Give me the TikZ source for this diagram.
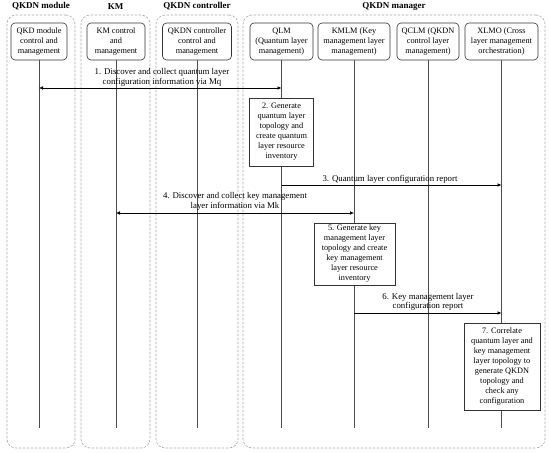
\documentclass[tikz,border=0pt]{standalone}
\usepackage{fontspec}
\setmainfont{Liberation Serif}
\usetikzlibrary{arrows.meta}
\begin{document}
\begin{tikzpicture}[x=1pt,y=-1pt,
  cont/.style={draw=black!35, dash pattern=on 2.5pt off 1.5pt, rounded corners=9pt, line width=0.6pt, inner sep=0pt},
  ttl/.style={font=\fontsize{9}{10}\selectfont\bfseries, inner sep=0pt},
  head/.style={draw=black!80, rounded corners=4pt, align=center, font=\fontsize{8.3}{10}\selectfont, inner sep=0pt, line width=0.6pt, minimum height=37pt},
  actbox/.style={draw=black!80, fill=white, align=center, font=\fontsize{8.3}{10}\selectfont, inner sep=0pt, line width=0.6pt},
  life/.style={draw=black!70, line width=0.6pt},
  msg/.style={draw=black, line width=0.5pt, -{Latex[length=4pt,width=3.5pt]}},
  msgb/.style={draw=black, line width=0.5pt, {Latex[length=4pt,width=3.5pt]}-{Latex[length=4pt,width=3.5pt]}},
  lbl/.style={font=\fontsize{8.8}{9.5}\selectfont, align=center, inner sep=0pt}]
\useasboundingbox (0,0) rectangle (550,453);
% containers
\node[cont, minimum width=68pt, minimum height=433pt] (c1) at (41,231.5) {};
\node[cont, minimum width=69pt, minimum height=433pt] (c2) at (115.5,231.5) {};
\node[cont, minimum width=82pt, minimum height=433pt] (c3) at (197,231.5) {};
\node[cont, minimum width=302pt, minimum height=433pt] (c4) at (394,231.5) {};
\node[ttl] (t1) at (41,6.5) {QKDN module};
\node[ttl] (t2) at (115.5,7) {KM};
\node[ttl] (t3) at (197,6.5) {QKDN controller};
\node[ttl] (t4) at (394,7) {QKDN manager};
% heads
\node[head, minimum width=56pt] (qkd) at (39,41.5) {QKD module\\control and\\management};
\node[head, minimum width=58pt] (km) at (116,41.5) {KM control\\and\\management};
\node[head, minimum width=69pt] (ctl) at (197,41.5) {QKDN controller\\control and\\management};
\node[head, minimum width=63pt] (qlm) at (281.5,41.5) {QLM\\(Quantum layer\\management)};
\node[head, minimum width=72pt] (kmlm) at (354,41.5) {KMLM (Key\\management layer\\management)};
\node[head, minimum width=62pt] (qclm) at (428,41.5) {QCLM (QKDN\\control layer\\management)};
\node[head, minimum width=73pt] (xlmo) at (501.5,41.5) {XLMO (Cross\\layer management\\orchestration)};
% lifeline ends
\foreach \n in {qkd,km,ctl,qlm,kmlm,qclm,xlmo}{
  \coordinate (\n e) at (\n.south |- 0,428);
  \draw[life] (\n.south) -- (\n e);
}
% activity boxes
\node[actbox, minimum width=64pt, minimum height=68pt] (a2) at (281.5,132) {2. Generate\\quantum layer\\topology and\\create quantum\\layer resource\\inventory};
\node[actbox, minimum width=81pt, minimum height=62pt] (a5) at (354.5,254) {5. Generate key\\management layer\\topology and create\\key management\\layer resource\\inventory};
\node[actbox, minimum width=76pt, minimum height=87pt] (a7) at (502,366.5) {7. Correlate\\quantum layer and\\key management\\layer topology to\\generate QKDN\\topology and\\check any\\configuration};
% message endpoints
\coordinate (m1l) at (qkd.south |- 0,88);
\coordinate (m1r) at (qlm.south |- 0,88);
\coordinate (m3l) at (qlm.south |- 0,185);
\coordinate (m3r) at (xlmo.south |- 0,185);
\coordinate (m4l) at (km.south |- 0,213);
\coordinate (m4r) at (kmlm.south |- 0,213);
\coordinate (m6l) at (kmlm.south |- 0,313);
\coordinate (m6r) at (xlmo.south |- 0,313);
\draw[msgb] (m1l) -- (m1r);
\draw[msg] (m3l) -- (m3r);
\draw[msgb] (m4l) -- (m4r);
\draw[msg] (m6l) -- (m6r);
\node[lbl] (l1) at (162,77.5) {1. Discover and collect quantum layer\\configuration information via Mq};
\node[lbl] (l3) at (390,179) {3. Quantum layer configuration report};
\node[lbl] (l4) at (235,201.5) {4. Discover and collect key management\\layer information via Mk};
\node[lbl] (l6) at (428,302) {6. Key management layer\\configuration report};
\end{tikzpicture}
\end{document}
